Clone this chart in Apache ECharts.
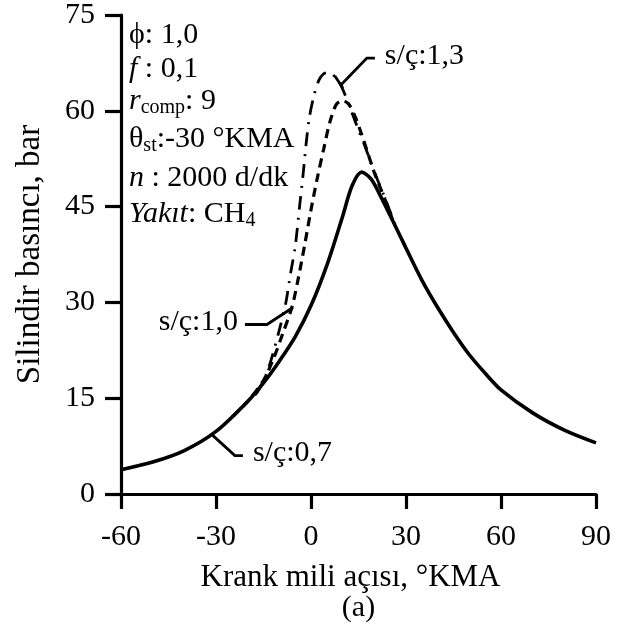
<!DOCTYPE html>
<html><head><meta charset="utf-8">
<script src="https://cdn.jsdelivr.net/npm/echarts@6/dist/echarts.min.js"></script>
<style>html,body{margin:0;padding:0;background:#fff}#c{width:629px;height:633px}</style>
</head><body><div id="c"></div>
<script>
// ---- data ----
const xTicks = [-60, -30, 0, 30, 60, 90];
const yTicks = [0, 15, 30, 45, 60, 75];

// s/ç:0,7 (solid)
const angle07 = [-60,-50,-40,-30,-20,-15,-10,-5,0,5,10,13,16,19,22,25,30,35,40,45,50,55,60,70,80,90];
const press07 = [3.8,5.0,6.8,9.8,14.5,17.4,20.8,24.6,29.5,35.8,43.5,48.3,50.4,49.3,46.6,43.6,38.5,33.5,29.2,25.3,21.8,18.9,16.3,12.7,10.0,8.0];

// s/ç:1,0 (dashed)
const angle10 = [-25,-20,-15,-12,-9,-6,-4,-2,0,2,4,6,8,10,12,14,16,18,20,22,24,26];
const press10 = [12.0,14.5,17.8,21.0,25.0,29.3,33.8,39.0,44.5,49.5,54.0,58.3,61.0,61.6,61.0,59.0,56.3,53.3,50.3,47.8,45.3,42.6];

// s/ç:1,3 (dash-dot)
const angle13 = [-25,-20,-17,-14,-12,-10,-8,-6.5,-5,-3.5,-2.5,-1.5,-0.5,1,2.5,4,5.5,7,9,11,13,15,17,19,21,23,25,27];
const press13 = [12.0,14.5,15.9,18.9,22.0,25.7,29.8,34.4,38.7,45.5,50.0,55.0,59.0,62.5,64.8,65.8,66.0,65.6,64.4,62.2,59.6,57.0,54.5,51.8,49.2,46.8,44.2,41.6];

// label anchors (data coords on curves)
const anchor13 = [8.8, 64.5];
const anchor10 = [-5.7, 29.2];
const anchor07 = [-31.3, 9.3];

const FONT = '"Liberation Serif","Times New Roman",serif';
const FS = 30;

const pairs = (xs, ys) => xs.map((x, i) => [x, ys[i]]);
const chart = echarts.init(document.getElementById('c'), null, {renderer: 'canvas'});

chart.setOption({
  animation: false,
  backgroundColor: '#fff',
  grid: {left: 121, right: 33, top: 15, bottom: 139, containLabel: false},
  xAxis: {
    type: 'value', min: xTicks[0], max: xTicks[xTicks.length - 1], interval: 30,
    name: 'Krank mili açısı, °KMA', nameLocation: 'middle', nameGap: 68,
    nameTextStyle: {fontFamily: FONT, fontSize: 31, color: '#000', padding: [0, 16, 0, 0]},
    axisLine: {show: true, onZero: false, lineStyle: {color: '#000', width: 3.2}},
    axisTick: {show: true, length: 15, lineStyle: {color: '#000', width: 3.2}},
    axisLabel: {fontFamily: FONT, fontSize: FS, color: '#000', margin: 28},
    splitLine: {show: false}
  },
  yAxis: {
    type: 'value', min: yTicks[0], max: yTicks[yTicks.length - 1], interval: 15,
    name: 'Silindir basıncı, bar', nameLocation: 'middle', nameGap: 74,
    nameTextStyle: {fontFamily: FONT, fontSize: 33, color: '#000'},
    axisLine: {show: true, onZero: false, lineStyle: {color: '#000', width: 3.2}},
    axisTick: {show: true, length: 16, lineStyle: {color: '#000', width: 3.2}},
    axisLabel: {fontFamily: FONT, fontSize: FS, color: '#000', margin: 26},
    splitLine: {show: false}
  },
  series: [
    {type: 'line', name: 's/ç:1,3', data: pairs(angle13, press13), showSymbol: false, symbol: 'none',
     smooth: 0.3, lineStyle: {color: '#000', width: 2.8, type: [14, 8, 2, 8]}},
    {type: 'line', name: 's/ç:1,0', data: pairs(angle10, press10), showSymbol: false, symbol: 'none',
     smooth: 0.3, lineStyle: {color: '#000', width: 3.2, type: [9, 6]}},
    {type: 'line', name: 's/ç:0,7', data: pairs(angle07, press07), showSymbol: false, symbol: 'none',
     smooth: 0.3, lineStyle: {color: '#000', width: 3.6, type: 'solid'}}
  ]
});

const px = p => chart.convertToPixel({gridIndex: 0}, p);
const lineStyle = {stroke: '#000', lineWidth: 2.8, fill: null};
const mkText = (x, y, text, align, extra) => ({
  type: 'text', x: x, y: y, silent: true,
  style: Object.assign({text: text, fill: '#000', fontFamily: FONT, fontSize: FS,
    align: align, textAlign: align, verticalAlign: 'middle', textVerticalAlign: 'middle'}, extra || {})
});

const a13 = px(anchor13), a10 = px(anchor10), a07 = px(anchor07);
const gridCenterX = (px([xTicks[0], 0])[0] + px([xTicks[xTicks.length - 1], 0])[0]) / 2;

const rich = {
  i: {fontFamily: FONT, fontSize: FS, fontStyle: 'italic', fill: '#000'},
  sub: {fontFamily: FONT, fontSize: 20, verticalAlign: 'bottom', lineHeight: 18, fill: '#000'}
};
const infoLines = [
  ['ϕ: 1,0', 44],
  ['{i|f} : 0,1', 78],
  ['{i|r}{sub|comp}: 9', 110],
  ['θ{sub|st}:-30 °KMA', 148],
  ['{i|n} : 2000 d/dk', 187],
  ['{i|Yakıt}: CH{sub|4}', 223]
];

const graphics = [];
infoLines.forEach(([t, base]) => {
  graphics.push({
    type: 'text', x: 129, y: base - 26, silent: true,
    style: {text: t, rich: rich, fill: '#000', fontFamily: FONT, fontSize: FS, lineHeight: 34,
      align: 'left', textAlign: 'left', verticalAlign: 'top', textVerticalAlign: 'top'}
  });
});

// s/ç:1,3 leader
graphics.push({type: 'polyline', silent: true, shape: {points: [[a13[0] + 2, a13[1] + 3], [a13[0] + 28, a13[1] - 24], [a13[0] + 36, a13[1] - 24]]}, style: lineStyle});
graphics.push({type: 'polyline', silent: true, shape: {points: [[a13[0] - 4, a13[1] - 6], [a13[0] + 4, a13[1] + 6]]}, style: lineStyle});
graphics.push(mkText(a13[0] + 46, a13[1] - 26, 's/ç:1,3', 'left'));

// s/ç:1,0 leader
graphics.push({type: 'polyline', silent: true, shape: {points: [[a10[0], a10[1]], [a10[0] - 26, a10[1] + 17], [a10[0] - 48, a10[1] + 17]]}, style: lineStyle});
graphics.push(mkText(a10[0] - 55, a10[1] + 15, 's/ç:1,0', 'right'));

// s/ç:0,7 leader
graphics.push({type: 'polyline', silent: true, shape: {points: [[a07[0], a07[1]], [a07[0] + 23, a07[1] + 21], [a07[0] + 31, a07[1] + 21]]}, style: lineStyle});
graphics.push(mkText(a07[0] + 41, a07[1] + 19, 's/ç:0,7', 'left'));

// (a)
graphics.push(mkText(gridCenterX, 608, '(a)', 'center'));

chart.setOption({graphic: graphics});
</script>
</body></html>
